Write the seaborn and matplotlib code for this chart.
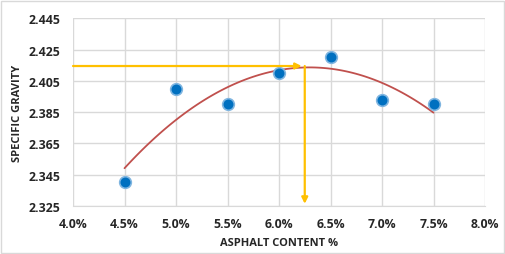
import matplotlib
matplotlib.use("Agg")
import matplotlib.pyplot as plt
import seaborn as sns
import numpy as np
import pandas as pd
from matplotlib.patches import Rectangle

# Data
asphalt = [4.5, 5.0, 5.5, 6.0, 6.5, 7.0, 7.5]
gravity = [2.340, 2.400, 2.390, 2.410, 2.420, 2.393, 2.390]
opt_asphalt = 6.25
opt_gravity = 2.4145
x_ticks = [4.0, 4.5, 5.0, 5.5, 6.0, 6.5, 7.0, 7.5, 8.0]
y_ticks = [2.325, 2.345, 2.365, 2.385, 2.405, 2.425, 2.445]

df = pd.DataFrame({"asphalt": asphalt, "gravity": gravity})

# polynomial (order 2) trendline like excel
coef = np.polyfit(asphalt, gravity, 2)
trend_x = np.linspace(min(asphalt), max(asphalt), 100)
trend_df = pd.DataFrame({"asphalt": trend_x, "gravity": np.polyval(coef, trend_x)})

sns.set_style("white")
plt.rcParams["font.family"] = ["Open Sans", "DejaVu Sans"]

fig = plt.figure(figsize=(5.06, 2.55), dpi=100)
ax = fig.add_axes([0.1443, 0.189, 0.8142, 0.735])

sns.lineplot(data=trend_df, x="asphalt", y="gravity", color="#C0504D", lw=1.3, ax=ax, zorder=3)
sns.scatterplot(data=df, x="asphalt", y="gravity", s=70, color="#0070C0",
                edgecolor="#7FB5E0", linewidth=1.2, ax=ax, zorder=4)

# optimum asphalt content arrows
ax.annotate("", xy=(opt_asphalt - 0.03, opt_gravity), xytext=(4.0, opt_gravity),
            arrowprops=dict(arrowstyle="-|>", color="#FFC000", lw=1.6,
                            mutation_scale=9, shrinkA=0, shrinkB=0), zorder=5)
ax.annotate("", xy=(opt_asphalt, 2.3263), xytext=(opt_asphalt, opt_gravity),
            arrowprops=dict(arrowstyle="-|>", color="#FFC000", lw=1.6,
                            mutation_scale=9, shrinkA=0, shrinkB=0), zorder=5)

ax.set_xlim(4.0, 8.0)
ax.set_ylim(2.325, 2.445)
ax.set_xticks(x_ticks)
ax.set_xticklabels([f"{v:.1f}%" for v in x_ticks])
ax.set_yticks(y_ticks)
ax.set_yticklabels([f"{v:.3f}" for v in y_ticks])
ax.grid(True, color="#D9D9D9", lw=1)
ax.set_axisbelow(True)
for side in ["top", "right", "left"]:
    ax.spines[side].set_visible(False)
ax.spines["bottom"].set_color("#D9D9D9")
ax.tick_params(length=0, labelsize=8.8)
ax.tick_params(axis="x", pad=8)
ax.tick_params(axis="y", pad=9)
for lab in ax.get_xticklabels() + ax.get_yticklabels():
    lab.set_fontweight("bold")
ax.set_xlabel("ASPHALT CONTENT %", fontsize=8, fontweight="bold", labelpad=5)
ax.set_ylabel("SPECIFIC GRAVITY", fontsize=8, fontweight="bold", labelpad=4)

fig.patches.append(Rectangle((0.002, 0.004), 0.994, 0.99, transform=fig.transFigure,
                             fill=False, edgecolor="#D9D9D9", lw=1))

fig.savefig("out.png", dpi=100)
